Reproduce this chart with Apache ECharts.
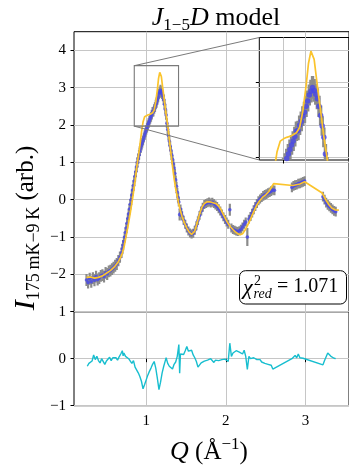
<!DOCTYPE html>
<html>
<head>
<meta charset="utf-8">
<script src="https://cdn.jsdelivr.net/npm/echarts@6/dist/echarts.min.js"></script>
<style>
  html, body { margin: 0; padding: 0; background: #fff; }
  #chart { width: 349px; height: 469px; }
</style>
</head>
<body>
<div id="chart"></div>
<script>
// Measured intensity difference I(175 mK) - I(9 K): Q, intensity, uncertainty
const qObs = [
  0.25, 0.27, 0.29, 0.31, 0.33, 0.35, 0.37, 0.39, 0.41, 0.43, 0.45, 0.47, 0.49, 0.51, 0.53, 0.55, 0.57, 0.59, 0.61, 0.63, 0.65, 0.67,
  0.69, 0.70, 0.71, 0.72, 0.73, 0.74, 0.75, 0.76, 0.77, 0.78, 0.79, 0.80, 0.81, 0.82, 0.83, 0.84, 0.85, 0.86, 0.87, 0.88, 0.89, 0.90,
  0.91, 0.92, 0.93, 0.94, 0.95, 0.96, 0.97, 0.98, 0.99, 1.00, 1.01, 1.02, 1.03, 1.04, 1.05, 1.06, 1.07, 1.08, 1.09, 1.10,
  1.11, 1.12, 1.13, 1.14, 1.15, 1.16, 1.17, 1.18, 1.19, 1.20, 1.21, 1.22, 1.23, 1.24, 1.25, 1.26, 1.27, 1.28, 1.29, 1.30,
  1.31, 1.32, 1.33, 1.34, 1.35, 1.36, 1.37, 1.38, 1.39, 1.40, 1.41,
  1.42, 1.43, 1.44, 1.45,
  1.47, 1.49, 1.51, 1.53, 1.55, 1.57, 1.59, 1.61, 1.63, 1.65,
  1.67, 1.69, 1.71, 1.73, 1.75, 1.77, 1.79, 1.81, 1.83, 1.85,
  1.87, 1.89, 1.91, 1.93, 1.95, 1.97, 1.99, 2.01, 2.03, 2.05,
  2.07, 2.09, 2.11, 2.13, 2.15, 2.17, 2.19, 2.21, 2.23, 2.25,
  2.27, 2.29, 2.31, 2.33, 2.35, 2.37, 2.39, 2.41, 2.43, 2.45,
  2.47, 2.49, 2.51, 2.53, 2.55, 2.57, 2.59, 2.61,
  2.83, 2.85, 2.87, 2.89, 2.91, 2.93, 2.95, 2.97, 2.99,
  3.22, 3.24, 3.26, 3.28, 3.30, 3.32, 3.34, 3.36, 3.38
];
const iObs = [
  -2.15, -2.22, -2.12, -2.20, -2.10, -2.16, -2.06, -2.14, -2.10, -2.04, -2.02, -2.06, -1.96, -1.99, -1.92, -1.90, -1.86, -1.82, -1.77, -1.72, -1.63, -1.54,
  -1.42, -1.32, -1.22, -1.12, -1.00, -0.88, -0.76, -0.63, -0.50, -0.38, -0.25, -0.12, 0.00, 0.13, 0.26, 0.38, 0.50, 0.63, 0.75, 0.88, 1.00, 1.10,
  1.20, 1.30, 1.38, 1.45, 1.52, 1.59, 1.66, 1.73, 1.80, 1.87, 1.93, 1.99, 2.05, 2.11, 2.17, 2.22, 2.28, 2.35, 2.36, 2.43,
  2.48, 2.55, 2.60, 2.68, 2.75, 2.83, 2.88, 2.93, 2.89, 2.84, 2.78, 2.68, 2.56, 2.42, 2.27, 2.05, 1.88, 1.72, 1.57, 1.44,
  1.32, 1.20, 1.08, 0.96, 0.85, 0.70, 0.53, 0.36, 0.20, 0.06, -0.06,
  -0.40, -0.25, -0.35, -0.43,
  -0.55, -0.66, -0.76, -0.84, -0.89, -0.92, -0.90, -0.82, -0.70, -0.56,
  -0.42, -0.30, -0.20, -0.13, -0.10, -0.08, -0.06, -0.09, -0.07, -0.10,
  -0.14, -0.18, -0.24, -0.30, -0.38, -0.46, -0.53, -0.60, -0.66, -0.27,
  -0.76, -0.80, -0.82, -0.84, -0.85, -0.83, -0.79, -0.73, -0.66, -0.60,
  -1.00, -0.52, -0.45, -0.36, -0.27, -0.18, -0.10, -0.03, 0.02, 0.06,
  0.10, 0.13, 0.15, 0.18, 0.20, 0.23, 0.26, 0.25,
  0.33, 0.37, 0.39, 0.40, 0.43, 0.44, 0.46, 0.48, 0.50,
  0.08, 0.00, -0.08, -0.14, -0.18, -0.22, -0.26, -0.30, -0.32
];
const eObs = [
  0.16, 0.16, 0.16, 0.16, 0.16, 0.16, 0.16, 0.16, 0.16, 0.16, 0.16, 0.16, 0.16, 0.16, 0.16, 0.16, 0.16, 0.16, 0.16, 0.16, 0.15, 0.15,
  0.14, 0.14, 0.14, 0.14, 0.14, 0.14, 0.14, 0.14, 0.14, 0.14, 0.14, 0.14, 0.14, 0.14, 0.14, 0.14, 0.14, 0.14, 0.14, 0.14, 0.14, 0.14,
  0.13, 0.13, 0.13, 0.13, 0.13, 0.13, 0.13, 0.13, 0.13, 0.13, 0.13, 0.13, 0.13, 0.13, 0.13, 0.13, 0.13, 0.13, 0.13, 0.13,
  0.13, 0.13, 0.14, 0.14, 0.14, 0.14, 0.15, 0.15, 0.15, 0.14, 0.14, 0.14, 0.13, 0.13, 0.13, 0.13, 0.13, 0.13, 0.13, 0.13,
  0.12, 0.12, 0.12, 0.12, 0.12, 0.12, 0.12, 0.12, 0.12, 0.12, 0.12,
  0.16, 0.12, 0.12, 0.12,
  0.12, 0.12, 0.12, 0.12, 0.12, 0.12, 0.12, 0.12, 0.12, 0.12,
  0.12, 0.12, 0.12, 0.12, 0.12, 0.12, 0.12, 0.12, 0.12, 0.12,
  0.12, 0.12, 0.12, 0.12, 0.12, 0.12, 0.12, 0.12, 0.12, 0.16,
  0.12, 0.12, 0.12, 0.12, 0.12, 0.12, 0.12, 0.12, 0.12, 0.12,
  0.24, 0.12, 0.12, 0.12, 0.12, 0.12, 0.12, 0.12, 0.12, 0.12,
  0.13, 0.13, 0.13, 0.13, 0.13, 0.13, 0.13, 0.13,
  0.13, 0.13, 0.13, 0.13, 0.13, 0.13, 0.13, 0.13, 0.13,
  0.13, 0.13, 0.13, 0.13, 0.13, 0.13, 0.13, 0.13, 0.13
];

// J1-5 D model curve
const qFit = [
  0.25, 0.30, 0.35, 0.40, 0.45, 0.50, 0.55, 0.60, 0.65, 0.68, 0.70, 0.72, 0.75, 0.77, 0.80, 0.83, 0.86, 0.88, 0.90, 0.92,
  0.94, 0.96, 0.98, 1.00, 1.02, 1.05, 1.08, 1.10, 1.12, 1.14, 1.155, 1.17, 1.18, 1.19, 1.21, 1.23, 1.25, 1.27, 1.29, 1.31,
  1.33, 1.35, 1.37, 1.39, 1.41, 1.43, 1.45, 1.48, 1.51, 1.54, 1.57, 1.59, 1.61, 1.64, 1.67, 1.70, 1.73, 1.76, 1.79, 1.82,
  1.85, 1.88, 1.91, 1.94, 1.97, 2.00, 2.03, 2.06, 2.09, 2.12, 2.15, 2.18, 2.21, 2.24, 2.27, 2.30, 2.33, 2.36, 2.39, 2.42,
  2.46, 2.50, 2.54, 2.57, 2.60, 2.84, 2.93, 2.99, 3.21, 3.25, 3.29, 3.33, 3.37, 3.42
];
const iFit = [
  -2.08, -2.07, -2.10, -2.08, -2.04, -1.97, -1.90, -1.80, -1.66, -1.54, -1.43, -1.28, -0.95, -0.72, -0.35, 0.05, 0.50, 0.85, 1.15, 1.45,
  1.80, 2.08, 2.22, 2.25, 2.27, 2.29, 2.33, 2.40, 2.62, 2.95, 3.25, 3.41, 3.42, 3.30, 2.95, 2.62, 2.28, 2.00, 1.62, 1.25,
  0.90, 0.57, 0.30, 0.08, -0.13, -0.30, -0.45, -0.62, -0.76, -0.87, -0.93, -0.92, -0.84, -0.62, -0.38, -0.20, -0.10, -0.06, -0.05, -0.07,
  -0.09, -0.11, -0.17, -0.27, -0.40, -0.53, -0.64, -0.73, -0.80, -0.86, -0.91, -0.94, -0.91, -0.82, -0.70, -0.57, -0.42, -0.28, -0.14, -0.04,
  0.06, 0.13, 0.22, 0.32, 0.43, 0.38, 0.42, 0.48, 0.18, 0.02, -0.12, -0.22, -0.27, -0.28
];

// Fit residuals
const qRes = [
  0.26, 0.28, 0.30, 0.32, 0.34, 0.36, 0.38, 0.40, 0.42, 0.44, 0.46, 0.48, 0.50, 0.52, 0.54, 0.56, 0.58, 0.60, 0.62, 0.64,
  0.66, 0.68, 0.70, 0.71, 0.72, 0.74, 0.76, 0.78, 0.80, 0.82, 0.84, 0.86, 0.88, 0.90, 0.92, 0.94, 0.96, 0.98, 1.00, 1.02,
  1.04, 1.06, 1.08, 1.10, 1.12, 1.14, 1.16, 1.18, 1.20, 1.22, 1.24, 1.25, 1.27, 1.29, 1.31, 1.33, 1.35, 1.37, 1.39, 1.41,
  1.42, 1.43, 1.45, 1.47, 1.49, 1.51, 1.53, 1.55, 1.57, 1.59, 1.61, 1.63, 1.65, 1.67, 1.69, 1.71, 1.73, 1.75, 1.77, 1.79,
  1.81, 1.83, 1.85, 1.87, 1.89, 1.91, 1.93, 1.95, 1.97, 1.99, 2.01, 2.03, 2.05, 2.07, 2.09, 2.11, 2.13, 2.15, 2.17, 2.19,
  2.21, 2.23, 2.25, 2.27, 2.29, 2.31, 2.33, 2.35, 2.37, 2.39, 2.41, 2.43, 2.45, 2.47, 2.49, 2.51, 2.53, 2.55, 2.57, 2.59,
  2.83, 2.85, 2.87, 2.89, 2.91, 2.93, 2.95, 2.97, 2.99,
  3.22, 3.24, 3.26, 3.28, 3.30, 3.32, 3.34, 3.36, 3.38
];
const rRes = [
  -0.16, -0.10, -0.14, -0.05, 0.08, -0.02, 0.05, -0.04, -0.09, 0.00, -0.03, -0.12, -0.05, -0.02, 0.03, -0.04, 0.02, 0.06, 0.02, -0.03,
  0.04, 0.10, 0.17, 0.06, 0.12, 0.05, 0.08, 0.00, -0.05, -0.10, -0.04, -0.18, -0.22, -0.30, -0.38, -0.48, -0.64, -0.55, -0.45, -0.35,
  -0.27, -0.20, -0.12, -0.06, -0.20, -0.42, -0.66, -0.50, -0.30, -0.16, -0.04, 0.02, -0.10, -0.16, -0.20, -0.22, -0.12, -0.07, 0.05, 0.30,
  -0.31, 0.10, 0.14, 0.09, 0.17, 0.26, 0.16, 0.12, 0.18, 0.08, 0.02, -0.06, -0.18, -0.15, -0.09, -0.12, -0.05, -0.09, -0.03, -0.06,
  0.00, -0.02, -0.08, -0.03, 0.01, -0.04, -0.07, -0.02, -0.05, -0.01, -0.03, -0.06, 0.33, 0.05, 0.12, 0.08, 0.17, 0.19, 0.14, 0.16,
  0.10, 0.18, 0.05, -0.23, 0.05, 0.00, -0.03, 0.02, 0.05, -0.02, -0.06, -0.02, -0.07, -0.05, -0.10, -0.08, -0.12, -0.10, -0.14, -0.22,
  0.00, 0.04, 0.07, 0.02, 0.10, 0.02, 0.03, 0.01, 0.00,
  -0.13, -0.04, 0.04, 0.12, 0.08, 0.05, 0.02, 0.01, 0.00
];

// Axis ticks and view ranges
const qTicks = [1, 2, 3];
const iTicks = [-3, -2, -1, 0, 1, 2, 3, 4];
const iTickLabels = [-2, -1, 0, 1, 2, 3, 4];
const resTicks = [-1, 0, 1];
const qRange = [0.093, 3.547];
const iRange = [-3, 4.5];
const resRange = [-1, 1];
const zoomQ = [0.85, 1.406];
const zoomI = [1.97, 3.59];
const zoomQTicks = [1];
const zoomITicks = [2, 3];
const chiRed = '1.071';

const SERIF = '"Liberation Serif", "DejaVu Serif", serif';
const GRID_COLOR = '#c6c6c6';
const ERR_COLOR = '#8b8b8b';
const DOT_COLOR = '#4646ea';
const FIT_COLOR = '#fbc42c';
const RES_COLOR = '#17becf';

const obsData = qObs.map((q, k) => [q, iObs[k], eObs[k]]);
const fitData = qFit.map((q, k) => [q, iFit[k]]);
const resData = qRes.map((q, k) => [q, rRes[k]]);

const fmt = v => (v < 0 ? '\u2212' + Math.abs(v) : String(v));

function errorBars(axisIdx, width) {
  return {
    type: 'custom',
    xAxisIndex: axisIdx, yAxisIndex: axisIdx,
    clip: true,
    z: 2,
    silent: true,
    encode: { x: 0, y: 1 },
    data: obsData,
    renderItem: (params, api) => {
      const q = api.value(0), v = api.value(1), e = api.value(2);
      const lo = api.coord([q, v - e]);
      const hi = api.coord([q, v + e]);
      return {
        type: 'line',
        shape: { x1: lo[0], y1: lo[1], x2: hi[0], y2: hi[1] },
        style: { stroke: ERR_COLOR, lineWidth: width }
      };
    }
  };
}
function dots(axisIdx, size) {
  return {
    type: 'scatter', xAxisIndex: axisIdx, yAxisIndex: axisIdx,
    symbol: 'circle', symbolSize: size, silent: true, z: 3,
    itemStyle: { color: DOT_COLOR },
    data: obsData.map(d => [d[0], d[1]])
  };
}
function modelLine(axisIdx, width) {
  return {
    type: 'line', xAxisIndex: axisIdx, yAxisIndex: axisIdx,
    showSymbol: false, silent: true, z: 4,
    lineStyle: { color: FIT_COLOR, width: width },
    data: fitData
  };
}

const tickLabel = { fontFamily: SERIF, fontSize: 15, color: '#000' };
const splitLine = { show: true, lineStyle: { color: GRID_COLOR, width: 1 } };

const grids = [
  { left: 74, top: 31.7, width: 283.7, height: 280 },
  { left: 74, top: 311.7, width: 283.7, height: 94 },
  { left: 259.3, top: 37.5, width: 91.4, height: 122.5 }
].map(g => Object.assign({ show: true, borderColor: '#000', borderWidth: 1, backgroundColor: 'transparent' }, g));

const option = {
  animation: false,
  backgroundColor: '#fff',
  grid: grids,
  xAxis: [
    {
      gridIndex: 0, type: 'value', min: qRange[0], max: qRange[1],
      axisLine: { show: false },
      axisTick: { show: false, customValues: qTicks },
      axisLabel: { show: false, customValues: qTicks },
      splitLine
    },
    {
      gridIndex: 1, type: 'value', min: qRange[0], max: qRange[1],
      axisLine: { show: false },
      axisTick: { show: true, length: 3.5, customValues: qTicks, lineStyle: { color: '#000' } },
      axisLabel: Object.assign({ customValues: qTicks, margin: 8, formatter: fmt }, tickLabel),
      splitLine
    },
    {
      gridIndex: 2, type: 'value', min: zoomQ[0], max: zoomQ[1],
      axisLine: { show: false },
      axisTick: { show: true, length: 3.5, customValues: zoomQTicks, lineStyle: { color: '#000' } },
      axisLabel: { show: false, customValues: zoomQTicks },
      splitLine
    }
  ],
  yAxis: [
    {
      gridIndex: 0, type: 'value', min: iRange[0], max: iRange[1],
      axisLine: { show: false },
      axisTick: { show: true, length: 3.5, customValues: iTicks, lineStyle: { color: '#000' } },
      axisLabel: Object.assign({ customValues: iTickLabels, margin: 8, formatter: fmt }, tickLabel),
      splitLine
    },
    {
      gridIndex: 1, type: 'value', min: resRange[0], max: resRange[1],
      axisLine: { show: false },
      axisTick: { show: true, length: 3.5, customValues: resTicks, lineStyle: { color: '#000' } },
      axisLabel: Object.assign({ customValues: resTicks, margin: 8, formatter: fmt }, tickLabel),
      splitLine
    },
    {
      gridIndex: 2, type: 'value', min: zoomI[0], max: zoomI[1],
      axisLine: { show: false },
      axisTick: { show: true, length: 3.5, customValues: zoomITicks, lineStyle: { color: '#000' } },
      axisLabel: { show: false, customValues: zoomITicks },
      splitLine
    }
  ],
  series: [
    errorBars(0, 2.2),
    dots(0, 3.6),
    modelLine(0, 1.7),
    {
      type: 'line', xAxisIndex: 1, yAxisIndex: 1,
      showSymbol: false, silent: true, z: 4,
      lineStyle: { color: RES_COLOR, width: 1.4 },
      data: resData
    },
    errorBars(2, 3.4),
    dots(2, 5.5),
    modelLine(2, 1.7)
  ]
};

const chart = echarts.init(document.getElementById('chart'), null, { renderer: 'canvas' });
chart.setOption(option);

// Text blocks, chi-square box and the zoom indicator
function richText(x, y, text, rich, rotation) {
  return {
    type: 'text', x, y, rotation: rotation || 0, z: 100, silent: true,
    style: {
      text, rich,
      align: 'center', verticalAlign: 'middle',
      textAlign: 'center', textVerticalAlign: 'middle',
      fill: '#000'
    }
  };
}
const tok = (size, italic, lh, va) => ({
  fontFamily: SERIF, fontSize: size, fontStyle: italic ? 'italic' : 'normal',
  lineHeight: lh, verticalAlign: va, fill: '#000', color: '#000'
});

const tl = chart.convertToPixel({ xAxisIndex: 0, yAxisIndex: 0 }, [zoomQ[0], zoomI[1]]);
const br = chart.convertToPixel({ xAxisIndex: 0, yAxisIndex: 0 }, [zoomQ[1], zoomI[0]]);
const itl = chart.convertToPixel({ xAxisIndex: 2, yAxisIndex: 2 }, [zoomQ[0], zoomI[1]]);
const ibl = chart.convertToPixel({ xAxisIndex: 2, yAxisIndex: 2 }, [zoomQ[0], zoomI[0]]);
const INDICATOR = '#7a7a7a';

chart.setOption({
  graphic: [
    {
      type: 'rect', z: 50, silent: true,
      shape: { x: tl[0], y: tl[1], width: br[0] - tl[0], height: br[1] - tl[1] },
      style: { fill: 'none', stroke: INDICATOR, lineWidth: 1.1 }
    },
    {
      type: 'line', z: 50, silent: true,
      shape: { x1: tl[0], y1: tl[1], x2: itl[0], y2: itl[1] },
      style: { stroke: INDICATOR, lineWidth: 1 }
    },
    {
      type: 'line', z: 50, silent: true,
      shape: { x1: tl[0], y1: br[1], x2: ibl[0], y2: ibl[1] },
      style: { stroke: INDICATOR, lineWidth: 1 }
    },
    // title
    richText(216, 18, '{a|J}{b|1\u22125}{a|D}{c| model}', {
      a: tok(26, true, 32, 'middle'),
      b: tok(17, false, 17, 'bottom'),
      c: tok(26, false, 32, 'middle')
    }),
    // y axis title
    richText(26, 228, '{a|I}{b|175\u2009mK\u22129\u2009K}{c| (arb.)}', {
      a: tok(30, true, 34, 'middle'),
      b: tok(18, false, 18, 'bottom'),
      c: tok(25, false, 34, 'middle')
    }, Math.PI / 2),
    // x axis title
    richText(209, 452, '{a|Q}{c| (\u00C5}{s|\u22121}{c|)}', {
      a: tok(26, true, 32, 'middle'),
      c: tok(25, false, 32, 'middle'),
      s: tok(17, false, 17, 'top')
    }),
    // reduced chi-square box
    {
      type: 'rect', z: 90, silent: true,
      shape: { x: 239.5, y: 270.7, width: 107, height: 33.3, r: 6 },
      style: { fill: '#fff', stroke: '#000', lineWidth: 1 }
    },
    {
      type: 'text', z: 100, silent: true, x: 243, y: 288,
      style: { text: '\u03C7', font: 'italic 22px ' + SERIF, fill: '#000', align: 'left', verticalAlign: 'middle', textAlign: 'left', textVerticalAlign: 'middle' }
    },
    {
      type: 'text', z: 100, silent: true, x: 254, y: 281.5,
      style: { text: '2', font: '14px ' + SERIF, fill: '#000', align: 'left', verticalAlign: 'middle', textAlign: 'left', textVerticalAlign: 'middle' }
    },
    {
      type: 'text', z: 100, silent: true, x: 253.5, y: 294.5,
      style: { text: 'red', font: 'italic 14px ' + SERIF, fill: '#000', align: 'left', verticalAlign: 'middle', textAlign: 'left', textVerticalAlign: 'middle' }
    },
    {
      type: 'text', z: 100, silent: true, x: 277, y: 287,
      style: { text: '= ' + chiRed, font: '20px ' + SERIF, fill: '#000', align: 'left', verticalAlign: 'middle', textAlign: 'left', textVerticalAlign: 'middle' }
    }
  ]
});
</script>
</body>
</html>
